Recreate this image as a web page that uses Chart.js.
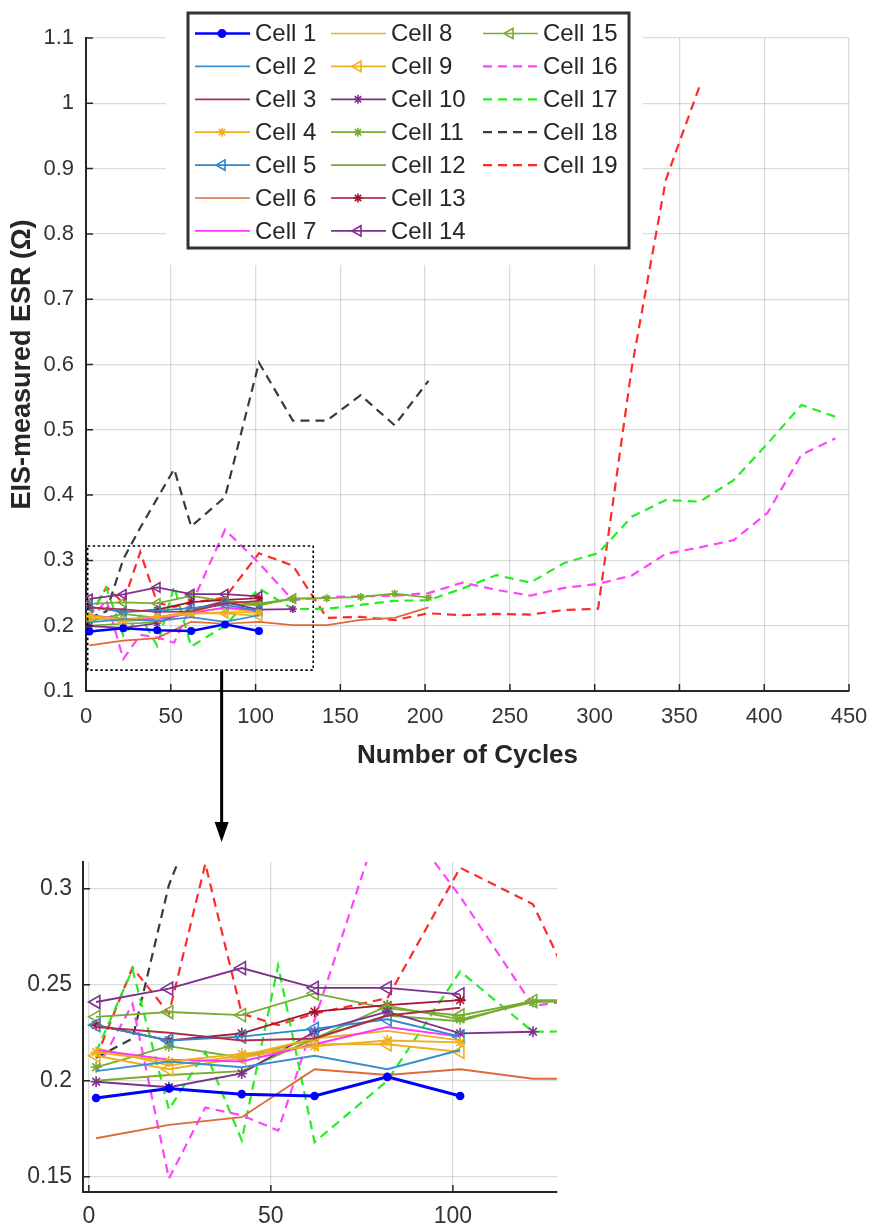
<!DOCTYPE html>
<html>
<head>
<meta charset="utf-8">
<script src="https://cdn.jsdelivr.net/npm/chart.js@4.4.1/dist/chart.umd.min.js"></script>
<style>
    html, body { margin: 0; padding: 0; background: #fff; }
    body { width: 871px; height: 1227px; position: relative; overflow: hidden; }
    #mainWrap { position: absolute; left: 0; top: 0; width: 871px; height: 845px; }
    #zoomWrap { position: absolute; left: 0; top: 845px; width: 600px; height: 382px; }
</style>
</head>
<body>
<div id="mainWrap"><canvas id="mainChart" width="871" height="845"></canvas></div>
<div id="zoomWrap"><canvas id="zoomChart" width="600" height="382"></canvas></div>
<script>
// ===== Data (cycle number / ESR in ohm) =====
const cellNames = ['Cell 1', 'Cell 2', 'Cell 3', 'Cell 4', 'Cell 5', 'Cell 6', 'Cell 7', 'Cell 8', 'Cell 9', 'Cell 10',
    'Cell 11', 'Cell 12', 'Cell 13', 'Cell 14', 'Cell 15', 'Cell 16', 'Cell 17', 'Cell 18', 'Cell 19'];

const cyclesShort = [2, 22, 42, 62, 82, 102];
const cycles122 = [2, 22, 42, 62, 82, 102, 122];
const cycles142 = [2, 22, 42, 62, 82, 102, 122, 142];
const cycles202 = [2, 22, 42, 62, 82, 102, 122, 142, 162, 182, 202];
const cyclesCell16 = [2, 12, 22, 32, 42, 52, 82, 102, 122, 142, 162, 182, 202, 222, 242, 262, 282, 302, 322, 342, 362, 382, 402, 422, 442];
const cyclesCell17 = [2, 12, 22, 32, 42, 52, 62, 82, 102, 122, 142, 162, 182, 202, 222, 242, 262, 282, 302, 322, 342, 362, 382, 402, 422, 442];
const cyclesCell18 = [2, 12, 22, 32, 42, 52, 62, 82, 102, 122, 142, 162, 182, 202];
const cyclesCell19 = [2, 12, 22, 32, 42, 52, 62, 82, 102, 122, 142, 162, 182, 202, 222, 242, 262, 282, 302, 322, 342, 362];

const esrCell1 = [0.191, 0.196, 0.193, 0.192, 0.202, 0.192];
const esrCell2 = [0.205, 0.210, 0.207, 0.213, 0.206, 0.216];
const esrCell3 = [0.228, 0.225, 0.221, 0.222, 0.234, 0.238];
const esrCell4 = [0.215, 0.210, 0.214, 0.218, 0.221, 0.220];
const esrCell5 = [0.229, 0.221, 0.223, 0.227, 0.232, 0.223];
const esrCell6 = [0.170, 0.177, 0.181, 0.206, 0.203, 0.206, 0.201, 0.201, 0.209, 0.212, 0.228];
const esrCell7 = [0.216, 0.211, 0.210, 0.219, 0.228, 0.223];
const esrCell8 = [0.217, 0.208, 0.213, 0.222, 0.226, 0.221];
const esrCell9 = [0.213, 0.206, 0.212, 0.219, 0.219, 0.215];
const esrCell10 = [0.1995, 0.1966, 0.2038, 0.2255, 0.236, 0.2247, 0.2255];
const esrCell11 = [0.207, 0.218, 0.212, 0.222, 0.239, 0.232, 0.241, 0.242, 0.244, 0.249, 0.243];
const esrCell12 = [0.200, 0.203, 0.205, 0.222, 0.234, 0.231, 0.242, 0.242];
const esrCell13 = [0.229, 0.221, 0.2247, 0.236, 0.2394, 0.242];
const esrCell14 = [0.241, 0.248, 0.2587, 0.2484, 0.2484, 0.245];
const esrCell15 = [0.2333, 0.2358, 0.2342, 0.2455, 0.2377, 0.234, 0.2415];
const esrCell16 = [0.205, 0.240, 0.149, 0.186, 0.182, 0.174, 0.347, 0.296, 0.239, 0.244, 0.245, 0.246, 0.250,
    0.266, 0.255, 0.246, 0.258, 0.264, 0.277, 0.310, 0.320, 0.331, 0.373, 0.462, 0.487];
const esrCell17 = [0.215, 0.258, 0.185, 0.215, 0.169, 0.260, 0.168, 0.200, 0.257, 0.2255, 0.226, 0.232, 0.238,
    0.239, 0.257, 0.2775, 0.266, 0.296, 0.311, 0.367, 0.3925, 0.390, 0.423, 0.479, 0.538, 0.520];
const esrCell18 = [0.212, 0.222, 0.302, 0.350, 0.395, 0.440, 0.352, 0.397, 0.603, 0.514, 0.514, 0.553, 0.507, 0.575];
const esrCell19 = [0.212, 0.259, 0.235, 0.313, 0.235, 0.229, 0.235, 0.243, 0.311, 0.292, 0.212, 0.2135, 0.2085,
    0.219, 0.216, 0.218, 0.217, 0.224, 0.226, 0.597, 0.883, 1.027];

const cellCycles = [cyclesShort, cyclesShort, cyclesShort, cyclesShort, cyclesShort, cycles202, cyclesShort, cyclesShort,
    cyclesShort, cycles122, cycles202, cycles142, cyclesShort, cyclesShort, cycles122, cyclesCell16, cyclesCell17,
    cyclesCell18, cyclesCell19];
const cellEsr = [esrCell1, esrCell2, esrCell3, esrCell4, esrCell5, esrCell6, esrCell7, esrCell8, esrCell9, esrCell10,
    esrCell11, esrCell12, esrCell13, esrCell14, esrCell15, esrCell16, esrCell17, esrCell18, esrCell19];

// tick labels
const xTicksMain = [0, 50, 100, 150, 200, 250, 300, 350, 400, 450];
const yTicksMain = [0.1, 0.2, 0.3, 0.4, 0.5, 0.6, 0.7, 0.8, 0.9, 1.0, 1.1];
const xTicksZoom = [0, 50, 100];
const yTicksZoom = [0.15, 0.2, 0.25, 0.3];

// zoomed region marked on the main plot, and limits of the inset axes
const zoomBoxX = [1, 134];
const zoomBoxY = [0.132, 0.322];
const zoomAxisX = [-1.6, 128.6];
const zoomAxisY = [0.142, 0.314];
const arrowAtCycle = 80;

// ===== Styles =====
const cellStyles = [
    { color: '#0000ff', marker: 'circle', width: 2.5 },
    { color: '#3a8fd0' },
    { color: '#b02e4a' },
    { color: '#edb120', marker: 'star' },
    { color: '#2f87cc', marker: 'triangle' },
    { color: '#dd6a3a' },
    { color: '#ff33ff' },
    { color: '#edb120' },
    { color: '#edb120', marker: 'triangle' },
    { color: '#7e2f8e', marker: 'star' },
    { color: '#77ac30', marker: 'star' },
    { color: '#77ac30' },
    { color: '#a2142f', marker: 'star' },
    { color: '#7e2f8e', marker: 'triangle' },
    { color: '#77ac30', marker: 'triangle' },
    { color: '#ff44ff', dashed: true },
    { color: '#22ee22', dashed: true },
    { color: '#3a3a3a', dashed: true },
    { color: '#ff2a2a', dashed: true }
];

const FONT = "'Liberation Sans', Arial, sans-serif";

function buildDatasets(big) {
    return cellNames.map((name, i) => {
        const st = cellStyles[i];
        const xs = cellCycles[i];
        const ys = cellEsr[i];
        let radius = 0;
        if (st.marker === 'circle') radius = big ? 3.5 : 3.2;
        if (st.marker === 'star') radius = big ? 5.5 : 4;
        if (st.marker === 'triangle') radius = big ? 7.5 : 5.5;
        return {
            label: name,
            data: xs.map((x, k) => ({ x: x, y: ys[k] })),
            borderColor: st.color,
            borderWidth: st.width ? (big ? 3 : st.width) : (st.dashed ? 2.2 : (big ? 1.9 : 1.7)),
            borderDash: st.dashed ? [9, 6] : [],
            pointStyle: st.marker || false,
            pointRadius: radius,
            pointRotation: st.marker === 'triangle' ? -90 : 0,
            pointBorderColor: st.color,
            pointBackgroundColor: st.marker === 'circle' ? st.color : 'rgba(0,0,0,0)',
            pointBorderWidth: 1.6,
            tension: 0,
            fill: false,
            clip: 0
        };
    });
}

function fmtTick(v) {
    return String(+Number(v).toFixed(2));
}

// ===== Inward MATLAB-style ticks =====
const inwardTicks = {
    id: 'inwardTicks',
    afterDatasetsDraw(chart) {
        const { ctx, chartArea, scales } = chart;
        ctx.save();
        ctx.strokeStyle = '#262626';
        ctx.lineWidth = 1.5;
        ctx.beginPath();
        scales.x.ticks.forEach(t => {
            const px = scales.x.getPixelForValue(t.value);
            ctx.moveTo(px, chartArea.bottom);
            ctx.lineTo(px, chartArea.bottom - 7);
        });
        scales.y.ticks.forEach(t => {
            const py = scales.y.getPixelForValue(t.value);
            ctx.moveTo(chartArea.left, py);
            ctx.lineTo(chartArea.left + 7, py);
        });
        ctx.stroke();
        ctx.restore();
    }
};

// ===== Zoom box, arrow and legend on the main chart =====
const mainExtras = {
    id: 'mainExtras',
    afterDraw(chart) {
        const { ctx, scales } = chart;
        const xs = scales.x, ys = scales.y;

        // dotted box around the zoomed region
        const bx0 = xs.getPixelForValue(zoomBoxX[0]);
        const bx1 = xs.getPixelForValue(zoomBoxX[1]);
        const by0 = ys.getPixelForValue(zoomBoxY[1]);
        const by1 = ys.getPixelForValue(zoomBoxY[0]);
        ctx.save();
        ctx.strokeStyle = '#000';
        ctx.lineWidth = 1.6;
        ctx.setLineDash([2.5, 2.5]);
        ctx.strokeRect(bx0, by0, bx1 - bx0, by1 - by0);
        ctx.setLineDash([]);

        // arrow down to the inset
        const ax = xs.getPixelForValue(arrowAtCycle);
        ctx.lineWidth = 3;
        ctx.beginPath();
        ctx.moveTo(ax, by1);
        ctx.lineTo(ax, 826);
        ctx.stroke();
        ctx.fillStyle = '#000';
        ctx.beginPath();
        ctx.moveTo(ax - 7, 822);
        ctx.lineTo(ax + 7, 822);
        ctx.lineTo(ax, 842);
        ctx.closePath();
        ctx.fill();

        // legend
        ctx.fillStyle = '#fff';
        ctx.fillRect(166, 0, 477, 265);
        ctx.strokeStyle = '#333';
        ctx.lineWidth = 3;
        ctx.strokeRect(188, 13, 441, 235);

        const colX = [195, 331, 483];
        chart.data.datasets.forEach((ds, i) => {
            const col = Math.floor(i / 7);
            const row = i % 7;
            const x0 = colX[col];
            const y = 33.5 + row * 32.9;
            ctx.strokeStyle = ds.borderColor;
            ctx.lineWidth = ds.borderWidth;
            ctx.setLineDash(ds.borderDash);
            ctx.beginPath();
            ctx.moveTo(x0, y);
            ctx.lineTo(x0 + 55, y);
            ctx.stroke();
            ctx.setLineDash([]);
            if (ds.pointStyle) {
                ctx.fillStyle = ds.pointBackgroundColor;
                ctx.strokeStyle = ds.pointBorderColor;
                ctx.lineWidth = ds.pointBorderWidth;
                Chart.helpers.drawPoint(ctx, {
                    pointStyle: ds.pointStyle,
                    rotation: ds.pointRotation,
                    radius: ds.pointRadius + 0.5,
                    borderWidth: ds.pointBorderWidth
                }, x0 + 27, y);
            }
            ctx.fillStyle = '#262626';
            ctx.font = '24px ' + FONT;
            ctx.textAlign = 'left';
            ctx.textBaseline = 'middle';
            ctx.fillText(ds.label, x0 + 60, y + 1);
        });
        ctx.restore();
    }
};

function axisCommon(tickSize) {
    return {
        type: 'linear',
        grid: { color: 'rgba(0,0,0,0.14)', lineWidth: 1.3, drawTicks: false },
        border: { display: true, color: '#262626', width: 2 },
        ticks: {
            color: '#333',
            font: { family: FONT, size: tickSize },
            callback: fmtTick,
            autoSkip: false,
            maxRotation: 0
        }
    };
}

// ===== Main chart =====
const mainX = axisCommon(22);
mainX.min = 0;
mainX.max = 450;
mainX.ticks.padding = 13;
mainX.afterBuildTicks = s => { s.ticks = xTicksMain.map(v => ({ value: v })); };
mainX.afterFit = s => { s.height = 845 - 691; s.paddingLeft = 0; s.paddingRight = 0; };
mainX.title = {
    display: true,
    text: 'Number of Cycles',
    color: '#262626',
    font: { family: FONT, size: 26, weight: 'bold' },
    padding: { top: 0, bottom: 74 }
};

const mainY = axisCommon(22);
mainY.min = 0.1;
mainY.max = 1.1;
mainY.ticks.padding = 12;
mainY.afterBuildTicks = s => { s.ticks = yTicksMain.map(v => ({ value: v })); };
mainY.afterFit = s => { s.width = 86; s.paddingTop = 0; s.paddingBottom = 0; };
mainY.title = {
    display: true,
    text: 'EIS-measured ESR (Ω)',
    color: '#262626',
    font: { family: FONT, size: 27, weight: 'bold' },
    padding: { top: 6, bottom: 0 }
};

new Chart(document.getElementById('mainChart'), {
    type: 'line',
    data: { datasets: buildDatasets(false) },
    options: {
        responsive: false,
        animation: false,
        events: [],
        layout: { padding: { left: 0, top: 38, right: 22, bottom: 0 } },
        scales: { x: mainX, y: mainY },
        plugins: { legend: { display: false }, tooltip: { enabled: false } }
    },
    plugins: [inwardTicks, mainExtras]
});

// ===== Inset (zoomed) chart =====
const zoomX = axisCommon(23);
zoomX.min = zoomAxisX[0];
zoomX.max = zoomAxisX[1];
zoomX.ticks.padding = 11;
zoomX.afterBuildTicks = s => { s.ticks = xTicksZoom.map(v => ({ value: v })); };
zoomX.afterFit = s => { s.height = 382 - 347; s.paddingLeft = 0; s.paddingRight = 0; };

const zoomY = axisCommon(23);
zoomY.min = zoomAxisY[0];
zoomY.max = zoomAxisY[1];
zoomY.ticks.padding = 11;
zoomY.afterBuildTicks = s => { s.ticks = yTicksZoom.map(v => ({ value: v })); };
zoomY.afterFit = s => { s.width = 83; s.paddingTop = 0; s.paddingBottom = 0; };

new Chart(document.getElementById('zoomChart'), {
    type: 'line',
    data: { datasets: buildDatasets(true) },
    options: {
        responsive: false,
        animation: false,
        events: [],
        layout: { padding: { left: 0, top: 17, right: 43, bottom: 0 } },
        scales: { x: zoomX, y: zoomY },
        plugins: { legend: { display: false }, tooltip: { enabled: false } }
    },
    plugins: [inwardTicks]
});
</script>
</body>
</html>
